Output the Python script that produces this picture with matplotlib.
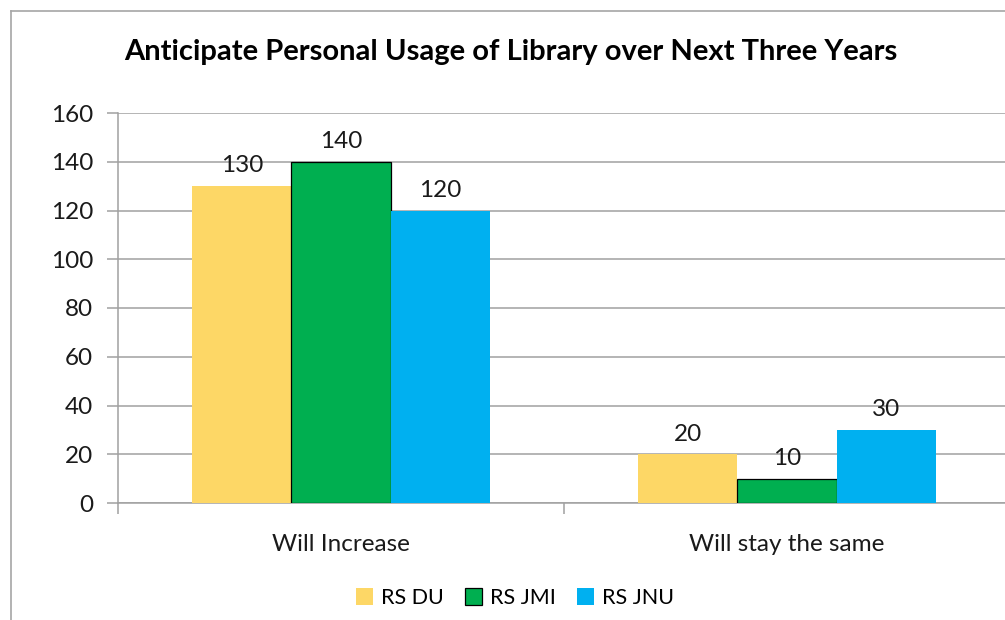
import matplotlib
matplotlib.use("Agg")
import matplotlib.pyplot as plt
import numpy as np
from matplotlib.lines import Line2D
from matplotlib.patches import Patch

categories = ["Will Increase", "Will stay the same"]
series_names = ["RS DU", "RS JMI", "RS JNU"]
rs_du = [130, 20]
rs_jmi = [140, 10]
rs_jnu = [120, 30]
colors = ["#FDD766", "#00AF50", "#00B0F0"]
title = "Anticipate Personal Usage of Library over Next Three Years"

plt.rcParams['font.family'] = ['Lato', 'DejaVu Sans']

W, H = 1005, 620
fig = plt.figure(figsize=(W / 100, H / 100), dpi=100)

def fx(px):
    return px / W

def fy(py):
    return 1 - py / H

FS = 17.5
ax = fig.add_axes([fx(118), fy(503), fx(1010) - fx(118), fy(113) - fy(503)])

x = np.arange(len(categories))
bw = 0.222
values = [rs_du, rs_jmi, rs_jnu]
for i, (vals, c) in enumerate(zip(values, colors)):
    ec = "black" if i == 1 else c
    lw = 0.9 if i == 1 else 0
    bars = ax.bar(x + (i - 1) * bw, vals, width=bw, color=c, edgecolor=ec,
                  linewidth=lw, zorder=3)
    for b, v in zip(bars, vals):
        ax.annotate(str(v), (b.get_x() + b.get_width() / 2, v),
                    xytext=(0, 7), textcoords="offset points",
                    ha="center", va="bottom", fontsize=FS, color="#1a1a1a", zorder=4)

ax.set_xlim(-0.5, 1.5)
ax.set_ylim(0, 160)
ax.set_yticks(np.arange(0, 161, 20))
ax.yaxis.grid(True, color="#A0A0A0", linewidth=1.1, zorder=0)
ax.set_axisbelow(True)
ax.set_xticks([-0.5, 0.5, 1.5])
ax.set_xticklabels([])
ax.set_xticks(x, minor=True)
ax.set_xticklabels(categories, minor=True)
ax.tick_params(axis="x", which="minor", length=0, pad=22, labelsize=FS, labelcolor="#1a1a1a")
ax.tick_params(axis="x", which="major", length=8, color="#A0A0A0", width=1.1)
ax.tick_params(axis="y", length=8, color="#A0A0A0", width=1.1, labelsize=FS,
               labelcolor="#1a1a1a", pad=10)
for s in ["top", "right"]:
    ax.spines[s].set_visible(False)
for s in ["left", "bottom"]:
    ax.spines[s].set_color("#A0A0A0")
    ax.spines[s].set_linewidth(1.1)

fig.text(fx(511), fy(52), title, ha="center", va="center", fontsize=21,
         fontweight="bold", color="black")

# chart area border
fig.add_artist(Line2D([fx(11), fx(11)], [0, fy(11)], color="#A6A6A6", lw=1.2))
fig.add_artist(Line2D([fx(11), 1], [fy(11), fy(11)], color="#A6A6A6", lw=1.2))

handles = [Patch(facecolor=c, edgecolor=("black" if i == 1 else c),
                 linewidth=(0.9 if i == 1 else 0)) for i, c in enumerate(colors)]
fig.legend(handles, series_names, loc="center", bbox_to_anchor=(fx(515), fy(598)),
           ncol=3, frameon=False, fontsize=15.5, handlelength=0.8, handleheight=0.8,
           handletextpad=0.35, columnspacing=1.0)

fig.savefig("out.png", dpi=100)
